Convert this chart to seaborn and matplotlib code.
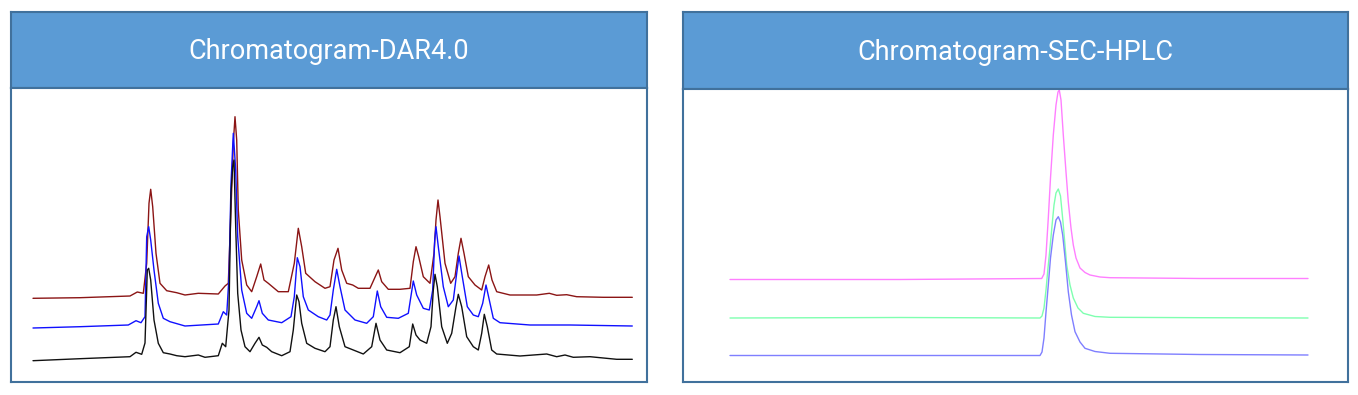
import matplotlib
matplotlib.use('Agg')
import matplotlib.pyplot as plt
import seaborn as sns
import pandas as pd

# Left panel: DAR4.0 chromatogram, three stacked injections (time index, signal)
dar_black_t = [0, 47, 97, 103, 108.7, 112, 114.3, 115.7, 117.7, 121, 125.3, 130.3, 137, 143.7, 152,
               165.3, 172, 185.3, 189.3, 192.7, 196, 198, 199.7, 201, 202.7, 204.7, 208, 212, 217,
               222, 226, 229.3, 233.7, 238.7, 248.7, 257, 260.3, 263.7, 266, 268.7, 273.7, 282, 292,
               297, 300.3, 303, 306.3, 312, 320.3, 330.3, 338.7, 343, 347, 353.7, 367, 376.3, 379.7,
               383, 387, 393.7, 398, 400.3, 402, 404.3, 408.7, 414.3, 418.7, 423, 425.3, 428.7, 433.7,
               440.3, 445.3, 448.7, 451.3, 454.3, 458.7, 463.7, 487, 513.7, 523.7, 532, 540.3, 557,
               583.7, 599.3]
dar_black_y = [20.3, 22.3, 24.3, 28.7, 26.7, 38, 111, 112.7, 101, 61, 37.7, 28.3, 27, 25.3, 24.3,
               26, 23.7, 25.3, 37.7, 34.3, 71, 188, 214.3, 221, 154.3, 87.7, 51, 34.3, 29.3,
               37.7, 43.7, 36, 33.7, 29.3, 25.3, 29.3, 51, 86, 79.3, 57.7, 37.7, 32.7, 29.3,
               34.3, 61, 74.3, 54.3, 34.3, 31, 27, 34.3, 57.7, 41, 31, 28.3, 34.3, 57,
               46, 41, 37.7, 54.3, 91, 106.7, 94.3, 54.3, 37.7, 47.7, 74.3, 86.7, 74.3, 44.3,
               34.3, 31, 47.7, 66.7, 54.3, 31, 27, 25, 27, 24.3, 26, 23.7, 24.3,
               21.7, 21.7]

dar_blue_t = [0, 47, 95.3, 103, 108, 112, 113.7, 115.7, 117.7, 121, 125.3, 130.3, 137, 152, 185.3,
              190.3, 193.7, 196, 198, 200.3, 202.7, 204.7, 208.7, 213.7, 218.7, 223.7, 226, 229.3,
              235.3, 248.7, 258, 261.3, 264.3, 267, 270.3, 275.3, 285.3, 293.7, 297, 300.3, 303.7,
              307, 312, 322, 333.7, 340.3, 344.3, 347.7, 353.7, 365.3, 375.3, 380.3, 383.7, 390.3,
              396.3, 399.7, 401.7, 403, 405.3, 410.3, 415.3, 420.3, 423.7, 426, 429.3, 434.3, 440.3,
              445.3, 449.7, 453, 456.3, 460.3, 467, 497, 537, 599.3]
dar_blue_y = [53, 54.3, 56, 60.3, 58.3, 64.3, 144.3, 154.3, 141, 111, 77.7, 62.7, 59.3, 55, 57,
              69.3, 66, 104.3, 197.7, 247.7, 211, 144.3, 91, 67.7, 62.7, 74.3, 80.3, 67.7,
              61, 58.3, 64.3, 84.3, 123.3, 114.3, 84.3, 71, 64.3, 61, 66, 91, 111.7,
              94.3, 71, 61, 57.7, 64.3, 90, 74.3, 63.7, 62.7, 67.7, 100, 86, 72.7,
              71, 91, 141, 154.3, 134.3, 94.3, 74.3, 81, 107.7, 125, 104.3, 74.3, 66,
              64.3, 77.7, 96, 81, 62.7, 58.3, 56, 56, 55]

dar_red_t = [0, 47, 97, 104.3, 110.3, 113.7, 116, 117.7, 119.7, 123, 127, 133.7, 143.7, 152, 165.3,
             185.3, 192, 195.3, 198, 200.3, 202, 203.7, 205.3, 208.7, 213.7, 218.7, 223.7, 227.7,
             231, 235.3, 245.3, 255.3, 261.3, 265.3, 268.7, 272.7, 282, 292, 297, 301, 305, 308.7,
             313.7, 319.7, 325.3, 337, 343, 345.3, 348.7, 355.3, 367, 377, 380.3, 383, 385.7, 390.3,
             397, 401, 403, 405, 407, 412, 417.7, 422, 425.3, 428, 431, 435.3, 442, 448.7, 452,
             455.7, 459, 463.7, 477, 503.7, 516.3, 523.7, 533.7, 543.7, 570.3, 599.3]
dar_red_y = [82.7, 83.3, 85, 89, 87.7, 117.7, 177.7, 191.7, 174.3, 127.7, 97.7, 90.3, 88.3, 86, 87.7,
             87, 95, 97.7, 171, 237.7, 264.3, 241, 171, 121, 96, 89.3, 104.3, 117,
             101, 97.7, 89.3, 89.3, 117.7, 152.7, 134.3, 107.7, 99.3, 92.7, 94.3, 121, 132.7, 111,
             97.7, 96, 92.7, 92.7, 106, 111, 99.3, 91.7, 91.7, 92.7, 119.3, 134.3, 124.3, 104.3,
             97.7, 127.7, 161, 181, 164.3, 117.7, 97.7, 104.3, 127.7, 142.7, 127.7, 104.3, 96, 91, 104.3,
             116, 101, 89.3, 86, 86, 87.7, 85.7, 86.3, 84.3, 83.7, 83.7]

# Right panel: SEC-HPLC chromatogram, three stacked injections
sec_magenta_t = [0, 170, 311.7, 314, 316, 318.3, 320.5, 323.3, 326, 328, 329.3, 331, 333.3, 336, 338.3,
                 341, 343.3, 346, 350, 355, 360, 370, 380, 470, 578]
sec_magenta_y = [101.5, 101.5, 102.5, 107, 126, 163, 203, 246, 276, 289, 291, 281, 246, 209, 179,
                 153, 136, 123, 113, 108.5, 106, 104, 103.3, 102.5, 102.5]

sec_green_t = [0, 170, 310, 312, 314, 316, 318, 320, 322, 324, 326, 328.3, 330.5, 333, 336.7, 340,
               343.3, 348, 353.3, 365, 380, 470, 578]
sec_green_y = [63, 63.5, 63, 65, 73, 91, 113, 133, 155, 176, 188, 192, 185, 159, 116, 96,
               83, 73, 67.7, 64.5, 63.7, 63.3, 63]

sec_blue_t = [0, 170, 310, 312, 314, 316, 318.3, 320.5, 323.3, 326, 328.3, 330.5, 332.7, 335.5, 338.3,
              341.5, 345, 350, 355, 365, 380, 470, 578]
sec_blue_y = [25.5, 25.5, 25.5, 29, 43, 69, 96, 123, 146, 161, 164.3, 159, 146, 119, 89.3,
              66, 49.3, 39, 32.7, 29.5, 27.7, 26.5, 26]

titles = ["Chromatogram-DAR4.0", "Chromatogram-SEC-HPLC"]

sns.set_style("white")
plt.rcParams['font.family'] = ['Roboto', 'DejaVu Sans']

W, H = 1358, 395
HEADER = '#5B9BD5'
BORDER = '#41719C'


def box(x0, y0, x1, y1):
    # pixel box (top-left origin) -> figure fraction rect
    return [x0 / W, 1 - y1 / H, (x1 - x0) / W, (y1 - y0) / H]


fig = plt.figure(figsize=(W / 100, H / 100), dpi=100)

panels = [
    dict(head=box(11, 12, 647, 88), plot=box(11, 88, 647, 382), xlim=(-22, 614), ylim=(-1, 293),
         traces=[(dar_red_t, dar_red_y, '#8B1515'), (dar_blue_t, dar_blue_y, '#1010FF'),
                 (dar_black_t, dar_black_y, '#111111')], lw=1.0),
    dict(head=box(683, 12, 1348, 89), plot=box(683, 89, 1348, 382), xlim=(-47, 618), ylim=(-1, 292),
         traces=[(sec_magenta_t, sec_magenta_y, '#FF7FFF'), (sec_green_t, sec_green_y, '#7FFFB0'),
                 (sec_blue_t, sec_blue_y, '#7F7FFF')], lw=1.0),
]

for p, title in zip(panels, titles):
    hax = fig.add_axes(p['head'])
    hax.set_facecolor(HEADER)
    hax.set_xticks([])
    hax.set_yticks([])
    for s in hax.spines.values():
        s.set_color(BORDER)
        s.set_linewidth(1.5)
    hax.text(0.5, 0.48, title, color='white', fontsize=19.5, ha='center', va='center',
             transform=hax.transAxes)

    ax = fig.add_axes(p['plot'])
    for t, y, c in p['traces']:
        df = pd.DataFrame({'t': t, 'signal': y})
        sns.lineplot(data=df, x='t', y='signal', ax=ax, color=c, linewidth=p['lw'],
                     sort=False, estimator=None)
    ax.set_xlim(*p['xlim'])
    ax.set_ylim(*p['ylim'])
    ax.set_xticks([])
    ax.set_yticks([])
    ax.set_xlabel('')
    ax.set_ylabel('')
    for s in ax.spines.values():
        s.set_color(BORDER)
        s.set_linewidth(1.5)

fig.savefig('out.png', dpi=100)
